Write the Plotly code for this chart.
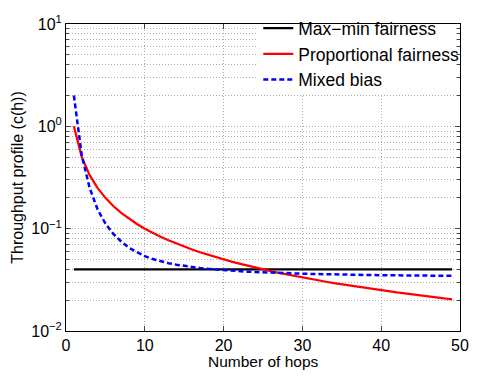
import plotly.graph_objects as go

hops = list(range(1, 50))
maxmin = [0.04] * 49
proportional = [1.0, 0.5, 0.3333, 0.25, 0.2, 0.1667, 0.1429, 0.125, 0.1111, 0.1,
                0.0909, 0.0833, 0.0769, 0.0714, 0.0667, 0.0625, 0.0588, 0.0556, 0.0526, 0.05,
                0.0476, 0.0455, 0.0435, 0.0417, 0.04, 0.0385, 0.037, 0.0357, 0.0345, 0.0333,
                0.0323, 0.0313, 0.0303, 0.0294, 0.0286, 0.0278, 0.027, 0.0263, 0.0256, 0.025,
                0.0244, 0.0238, 0.0233, 0.0227, 0.0222, 0.0217, 0.0213, 0.0208, 0.0204]
mixed = [2.0, 0.52, 0.25, 0.155, 0.112, 0.089, 0.075, 0.065, 0.059, 0.054,
         0.0505, 0.048, 0.046, 0.0445, 0.0432, 0.0422, 0.0413, 0.0405, 0.0399, 0.0393,
         0.0388, 0.0384, 0.038, 0.0377, 0.0374, 0.0371, 0.0369, 0.0367, 0.0365, 0.0363,
         0.0361, 0.036, 0.0358, 0.0357, 0.0356, 0.0355, 0.0354, 0.0353, 0.0352, 0.0351,
         0.035, 0.035, 0.0349, 0.0348, 0.0348, 0.0347, 0.0347, 0.0346, 0.0346]
ytick_vals = [0.01, 0.1, 1, 10]
ytick_text = ["10<sup>−2</sup>", "10<sup>−1</sup>", "10<sup>0</sup>", "10<sup>1</sup>"]
xtick_vals = [0, 10, 20, 30, 40, 50]

font = "Liberation Sans, Arial, Helvetica, sans-serif"
gridc = "#adadad"
griddash = "1px,2px"

fig = go.Figure()
fig.add_trace(go.Scatter(x=hops, y=maxmin, mode="lines", name="Max−min fairness",
                         line=dict(color="black", width=2.2)))
fig.add_trace(go.Scatter(x=hops, y=proportional, mode="lines", name="Proportional fairness",
                         line=dict(color="#ff0000", width=2.2)))
fig.add_trace(go.Scatter(x=hops, y=mixed, mode="lines", name="Mixed bias",
                         line=dict(color="#0000ff", width=2.5, dash="5px,3px")))

fig.update_layout(
    width=479, height=376,
    margin=dict(l=66, r=10, t=13, b=45),
    paper_bgcolor="white", plot_bgcolor="white",
    font=dict(family=font, size=16, color="black"),
    showlegend=True,
    legend=dict(x=0.488, y=1.045, xanchor="left", yanchor="top",
                bgcolor="rgba(255,255,255,0)", borderwidth=0, font=dict(size=17.5),
                tracegroupgap=0, itemwidth=30),
    shapes=[dict(type="rect", xref="paper", yref="paper",
                 x0=0.486, x1=0.985, y0=0.77, y1=0.987,
                 fillcolor="white", line=dict(width=0), layer="above")],
    annotations=[dict(text="Number of hops", xref="paper", yref="paper",
                      x=0.5, y=0, xanchor="center", yanchor="top", yshift=-20,
                      showarrow=False, font=dict(size=15.5))],
)
fig.update_xaxes(
    range=[0, 50], tickvals=xtick_vals, ticks="inside", ticklen=5,
    showline=True, linecolor="black", linewidth=1, mirror="ticks",
    showgrid=True, gridcolor=gridc, griddash=griddash, gridwidth=1,
    zeroline=False, tickfont=dict(size=16),
)
fig.update_yaxes(
    type="log", range=[-2, 1], tickvals=ytick_vals, ticktext=ytick_text,
    ticks="inside", ticklen=5,
    showline=True, linecolor="black", linewidth=1, mirror="ticks",
    showgrid=True, gridcolor=gridc, griddash=griddash, gridwidth=1,
    minor=dict(dtick="D1", ticks="inside", ticklen=3, showgrid=True,
               gridcolor=gridc, griddash=griddash, gridwidth=1),
    zeroline=False, tickfont=dict(size=16),
    title=dict(text="Throughput profile (c(h))", font=dict(size=16), standoff=3),
)

fig.write_html("out.html")
